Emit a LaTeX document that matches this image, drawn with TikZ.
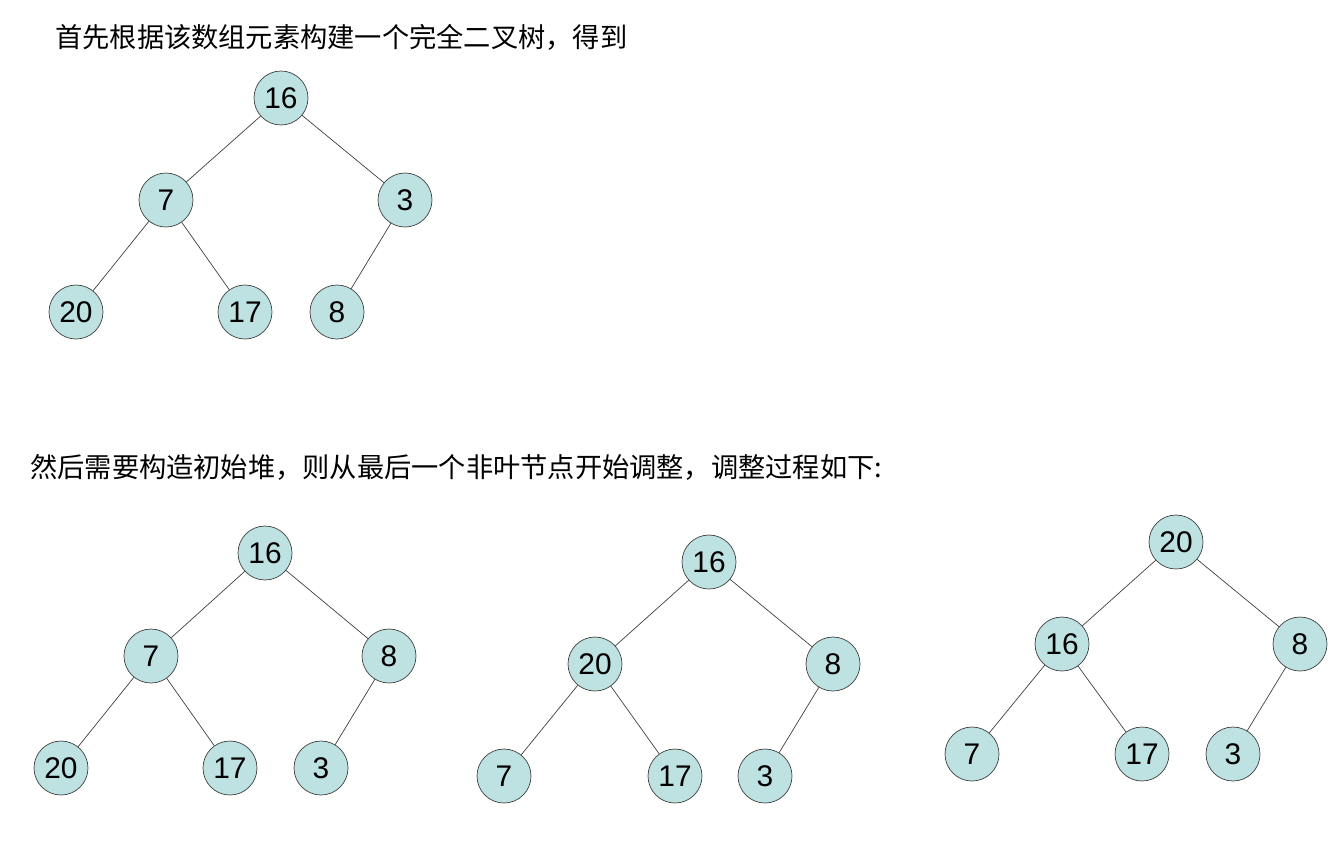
\documentclass[tikz,border=0pt]{standalone}
\usepackage{fontspec}
\setmainfont{Liberation Sans}
\newfontfamily\cjk{Noto Sans CJK SC}
\usepackage{tikz}
\begin{document}
\begin{tikzpicture}
	[x=0.02cm,y=-0.02cm,
	 every node/.style={circle,draw=black!75,fill=heapfill,minimum size=1.08cm,inner sep=0pt,font=\fontsize{17}{17}\selectfont},
	 caption/.style={draw=none,fill=none,rectangle,anchor=west,inner sep=0pt,font=\cjk\fontsize{15.5}{16}\selectfont}]
	\definecolor{heapfill}{RGB}{190,226,226}
	\useasboundingbox (0,0) rectangle (1344,840);
	\node[caption] (t1) at (55,37) {首先根据该数组元素构建一个完全二叉树，得到};
	\node[caption] (t2) at (30,467) {然后需要构造初始堆，则从最后一个非叶节点开始调整，调整过程如下:};

	% complete binary tree
	\node (a1) at (281,98) {16};
	\node (a2) at (166,200) {7};
	\node (a3) at (405,200) {3};
	\node (a4) at (76,312) {20};
	\node (a5) at (245,312) {17};
	\node (a6) at (337,312) {8};

	% step 1
	\node (b1) at (265,553) {16};
	\node (b2) at (151,656) {7};
	\node (b3) at (389,656) {8};
	\node (b4) at (61,768) {20};
	\node (b5) at (230,768) {17};
	\node (b6) at (321,768) {3};

	% step 2
	\node (c1) at (709,562) {16};
	\node (c2) at (595,664) {20};
	\node (c3) at (833,664) {8};
	\node (c4) at (504,776) {7};
	\node (c5) at (675,776) {17};
	\node (c6) at (765,776) {3};

	% step 3
	\node (d1) at (1176,542) {20};
	\node (d2) at (1062,644) {16};
	\node (d3) at (1300,644) {8};
	\node (d4) at (972,754) {7};
	\node (d5) at (1142,754) {17};
	\node (d6) at (1233,754) {3};

	\foreach \t in {a,b,c,d}
	\foreach \from/\to in {1/2,1/3,2/4,2/5,3/6}
	\draw[black!75] (\t\from) -- (\t\to);
\end{tikzpicture}
\end{document}
